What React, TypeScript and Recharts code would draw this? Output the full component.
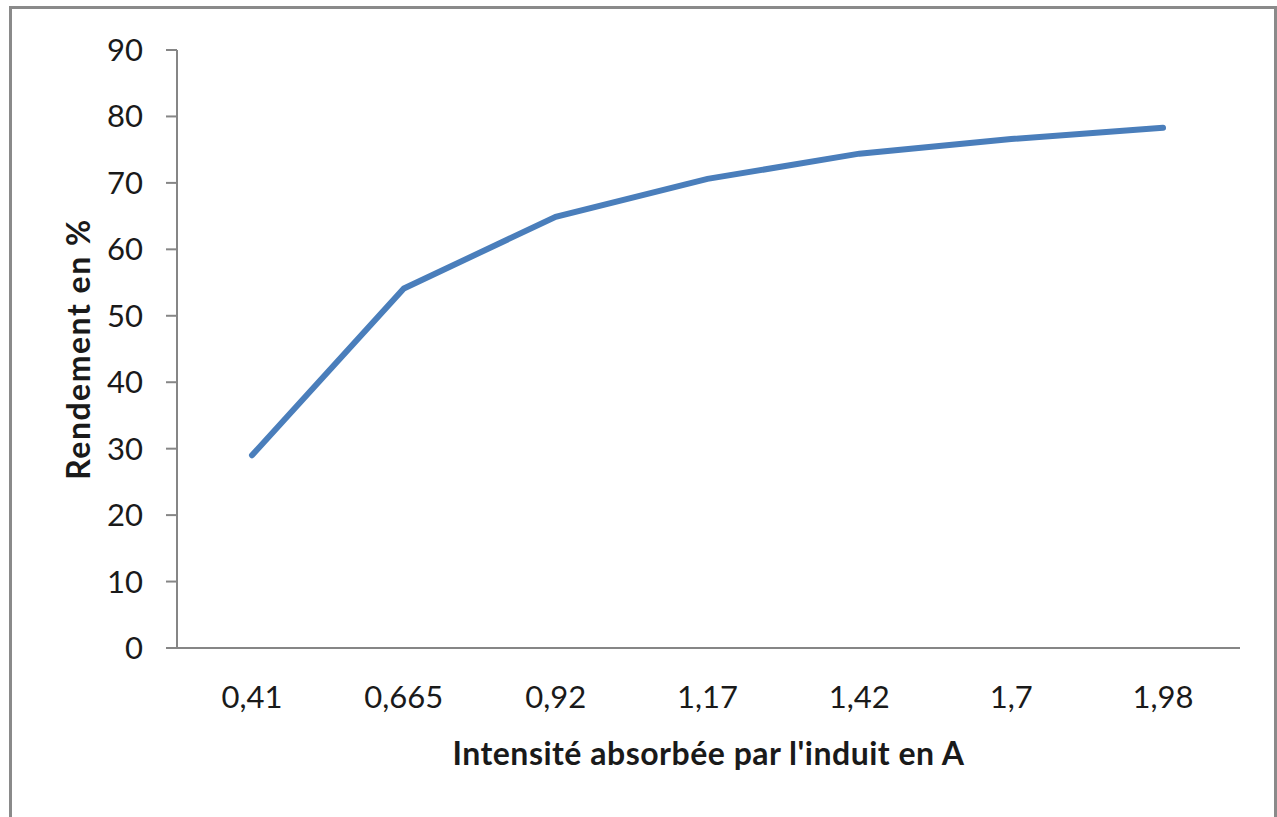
import { LineChart, Line, XAxis, YAxis } from 'recharts';

const courants = ['0,41', '0,665', '0,92', '1,17', '1,42', '1,7', '1,98'];
const rendement = [29, 54.1, 64.9, 70.6, 74.4, 76.6, 78.3];
const yTicks = [0, 10, 20, 30, 40, 50, 60, 70, 80, 90];

const data = courants.map((c, i) => ({ courant: c, rendement: rendement[i] }));

const AXIS = '#868686';
const FONT = 'Lato, "Open Sans", sans-serif';

export default function App() {
  return (
    <div style={{ position: 'relative', width: 1277, height: 817, overflow: 'hidden', fontFamily: FONT }}>
      <style>{'body{margin:0}'}</style>
      {/* cadre gris autour du graphique */}
      <div
        style={{
          position: 'absolute',
          left: 9,
          top: 6,
          width: 1268,
          height: 900,
          boxSizing: 'border-box',
          border: '3px solid #8a8a8a',
        }}
      />
      <div style={{ position: 'absolute', left: 0, top: 0 }}>
        <LineChart width={1277} height={817} data={data} margin={{ top: 50, right: 37, bottom: 139, left: 0 }}>
          <XAxis
            dataKey="courant"
            height={30}
            padding={{ left: 75, right: 77 }}
            stroke={AXIS}
            strokeWidth={2}
            tickLine={false}
            tickSize={0}
            tickMargin={38}
            tick={{ fill: '#1a1a1a', fontSize: 31, fontFamily: FONT }}
            label={({ viewBox }: any) => (
              <text
                x={viewBox.x + viewBox.width / 2}
                y={765}
                textAnchor="middle"
                fontSize={32}
                letterSpacing={0.5}
                fontWeight="bold"
                fontFamily={FONT}
                fill="#1a1a1a"
              >
                Intensité absorbée par l'induit en A
              </text>
            )}
          />
          <YAxis
            domain={[0, 90]}
            ticks={yTicks}
            width={177}
            stroke={AXIS}
            strokeWidth={2}
            tickSize={11}
            tickMargin={23}
            tick={{ fill: '#1a1a1a', fontSize: 31, fontFamily: FONT }}
            label={({ viewBox }: any) => (
              <text
                x={77}
                y={viewBox.y + viewBox.height / 2}
                textAnchor="middle"
                dominantBaseline="central"
                transform={`rotate(-90, 77, ${viewBox.y + viewBox.height / 2})`}
                fontSize={32}
                letterSpacing={1.5}
                fontWeight="bold"
                fontFamily={FONT}
                fill="#1a1a1a"
              >
                Rendement en %
              </text>
            )}
          />
          <Line
            type="linear"
            dataKey="rendement"
            stroke="#4a7ebb"
            strokeWidth={6}
            strokeLinecap="round"
            dot={false}
            activeDot={false}
            isAnimationActive={false}
          />
        </LineChart>
      </div>
    </div>
  );
}
